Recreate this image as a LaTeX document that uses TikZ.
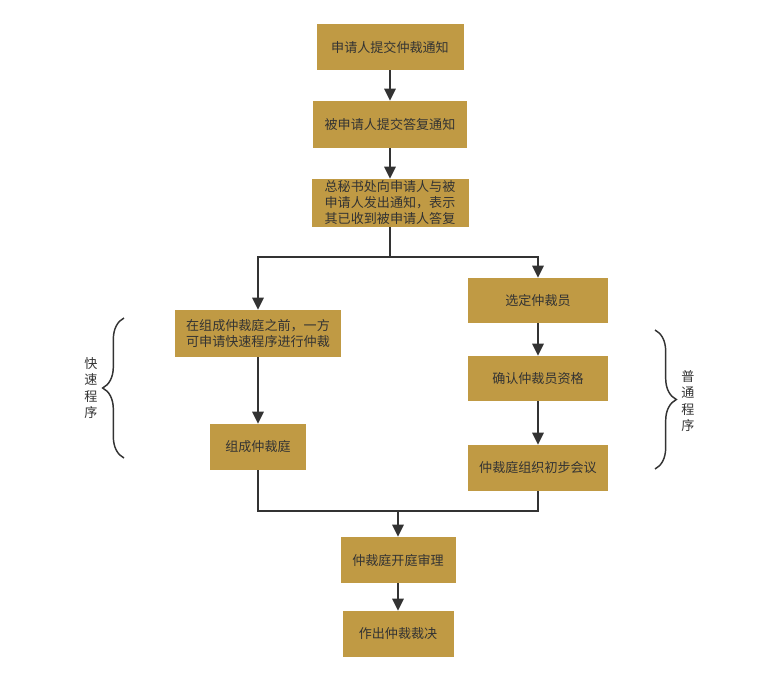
\documentclass[tikz,border=0pt]{standalone}
\usepackage{fontspec}
\setmainfont{Noto Sans CJK SC}
\usepackage{xcolor}
\usetikzlibrary{arrows.meta,decorations.pathreplacing}
\definecolor{gold}{HTML}{C09A44}
\definecolor{ink}{HTML}{333333}

\begin{document}
\begin{tikzpicture}[x=0.75pt,y=-0.75pt,
  box/.style={fill=gold,text=ink,inner sep=0pt,align=center,font=\fontsize{9.8}{12}\selectfont},
  flow/.style={draw=ink,line width=1.4pt,-{Triangle[length=9pt,width=8.5pt]}},
  link/.style={draw=ink,line width=1.4pt},
  brc/.style={draw=ink,line width=1.1pt,decoration={brace,amplitude=16pt,aspect=0.5},decorate},
  side/.style={text=ink,align=center,font=\fontsize{9.8}{12.2}\selectfont}]
\useasboundingbox (0,0) rectangle (780,682);
% main line
\node[box,minimum width={0.75*147pt},minimum height={0.75*46pt}] (notice) at (390,47) {申请人提交仲裁通知};
\node[box,minimum width={0.75*154pt},minimum height={0.75*47pt}] (reply) at (390,124.5) {被申请人提交答复通知};
\node[box,minimum width={0.75*157pt},minimum height={0.75*48pt}] (office) at (390,203) {总秘书处向申请人与被\\申请人发出通知，表示\\其已收到被申请人答复};
% fast track
\node[box,minimum width={0.75*166pt},minimum height={0.75*47pt}] (fast) at (258,333.5) {在组成仲裁庭之前，一方\\可申请快速程序进行仲裁};
\node[box,minimum width={0.75*96pt},minimum height={0.75*46pt}] (form) at (258,447) {组成仲裁庭};
% normal track
\node[box,minimum width={0.75*140pt},minimum height={0.75*45pt}] (pick) at (538,300.5) {选定仲裁员};
\node[box,minimum width={0.75*140pt},minimum height={0.75*45pt}] (check) at (538,378.5) {确认仲裁员资格};
\node[box,minimum width={0.75*140pt},minimum height={0.75*46pt}] (meet) at (538,468) {仲裁庭组织初步会议};
% end
\node[box,minimum width={0.75*115pt},minimum height={0.75*46pt}] (hear) at (398,560) {仲裁庭开庭审理};
\node[box,minimum width={0.75*111pt},minimum height={0.75*46pt}] (award) at (398,634) {作出仲裁裁决};
\coordinate (split) at (390,257);
\coordinate (join) at (398,511);
% connectors
\draw[flow] (notice) -- (reply);
\draw[flow] (reply) -- (office);
\draw[link] (office.south) -- (split);
\draw[flow] (split) -| (fast.north);
\draw[flow] (split) -| (pick.north);
\draw[flow] (fast) -- (form);
\draw[flow] (pick) -- (check);
\draw[flow] (check) -- (meet);
\draw[link] (form.south) |- (join);
\draw[link] (meet.south) |- (join);
\draw[flow] (join) -- (hear.north);
\draw[flow] (hear) -- (award);
% braces
\draw[brc] (124,458) -- (124,318);
\node[side] (fastlab) at (91,388) {快\\速\\程\\序};
\draw[brc] (655,330) -- (655,469);
\node[side] (normlab) at (688,401) {普\\通\\程\\序};
\end{tikzpicture}
\end{document}
